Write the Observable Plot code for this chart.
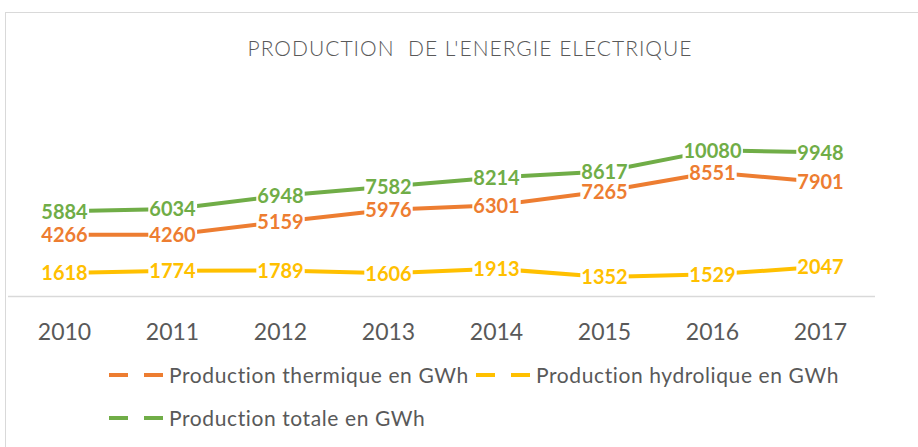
<!DOCTYPE html>
<html><head><meta charset="utf-8">
<script src="https://cdn.jsdelivr.net/npm/d3@7"></script>
<script src="https://cdn.jsdelivr.net/npm/@observablehq/plot@0.6"></script>
<style>
body{margin:0;background:#fff;}
#wrap{position:relative;width:918px;height:447px;overflow:hidden;font-family:Lato,"Open Sans",sans-serif;color:#595959;}
#chart{position:absolute;left:0;top:0}
#frame{position:absolute;left:5px;top:12px;width:1000px;height:1000px;border:1px solid #d9d9d9;box-sizing:border-box;pointer-events:none}
#title{position:absolute;top:36px;left:470px;transform:translateX(-50%);font-size:21px;letter-spacing:1px;line-height:24px;font-weight:300;white-space:pre;color:#595959}
.leg{position:absolute;height:24px;line-height:24px;font-size:21px;letter-spacing:0.6px;white-space:nowrap;color:#595959}
.sym{position:absolute;top:10px}
</style></head>
<body>
<div id="wrap">
  <div id="chart"></div>
  <div id="title">PRODUCTION  DE L'ENERGIE ELECTRIQUE</div>
  <div id="legend"></div>
  <div id="frame"></div>
</div>
<script>
const years = ["2010","2011","2012","2013","2014","2015","2016","2017"];
const thermique = [4266,4260,5159,5976,6301,7265,8551,7901];
const hydrolique = [1618,1774,1789,1606,1913,1352,1529,2047];
const totale = [5884,6034,6948,7582,8214,8617,10080,9948];
const seriesNames = ["Production thermique en GWh","Production hydrolique en GWh","Production totale en GWh"];
const seriesColors = ["#ED7D31","#FFC000","#70AD47"];
const seriesValues = [thermique, hydrolique, totale];

const rows = [];
seriesNames.forEach((s, i) => years.forEach((y, j) => rows.push({year: y, value: seriesValues[i][j], series: s})));

const chart = Plot.plot({
  width: 918, height: 350,
  marginLeft: 8, marginRight: 43, marginTop: 122, marginBottom: 54,
  style: {background: "transparent", fontFamily: "Lato, sans-serif"},
  x: {type: "point", domain: years, padding: 0.5, axis: null, label: null},
  y: {domain: [0, 12000], axis: null},
  color: {domain: seriesNames, range: seriesColors},
  marks: [
    Plot.ruleY([0], {stroke: "#d9d9d9", strokeWidth: 1.5}),
    Plot.line(rows, {x: "year", y: "value", z: "series", stroke: "series", strokeWidth: 4, strokeLinecap: "round", strokeLinejoin: "round"}),
    Plot.text(rows, {x: "year", y: "value", text: d => String(d.value), fill: "series", fontSize: 20, fontWeight: 700, dy: 1}),
    Plot.axisX({tickSize: 0, tickPadding: 27, fontSize: 23, color: "#595959", label: null})
  ]
});
document.getElementById("chart").appendChild(chart);

// white boxes behind the data labels (sized from the rendered text)
chart.querySelectorAll('g[aria-label="text"] text').forEach(t => {
  const b = t.getBBox();
  const tr = t.getAttribute("transform");
  const r = document.createElementNS("http://www.w3.org/2000/svg", "rect");
  r.setAttribute("x", b.x - 1);
  r.setAttribute("y", b.y + 2);
  r.setAttribute("width", b.width + 2);
  r.setAttribute("height", b.height - 4);
  r.setAttribute("fill", "white");
  if (tr) r.setAttribute("transform", tr);
  t.parentNode.insertBefore(r, t);
});

// legend
const legPos = [{x: 109, y: 375}, {x: 476, y: 375}, {x: 109, y: 418}];
const legend = document.getElementById("legend");
seriesNames.forEach((s, i) => {
  const d = document.createElement("div");
  d.className = "leg";
  d.style.left = legPos[i].x + "px";
  d.style.top = (legPos[i].y - 12) + "px";
  d.innerHTML = `<svg class="sym" width="54" height="4" style="left:0"><line x1="0" x2="19" y1="2" y2="2" stroke="${seriesColors[i]}" stroke-width="4"/><line x1="35" x2="54" y1="2" y2="2" stroke="${seriesColors[i]}" stroke-width="4"/></svg><span style="margin-left:60px">${s}</span>`;
  legend.appendChild(d);
});
</script>
</body></html>
